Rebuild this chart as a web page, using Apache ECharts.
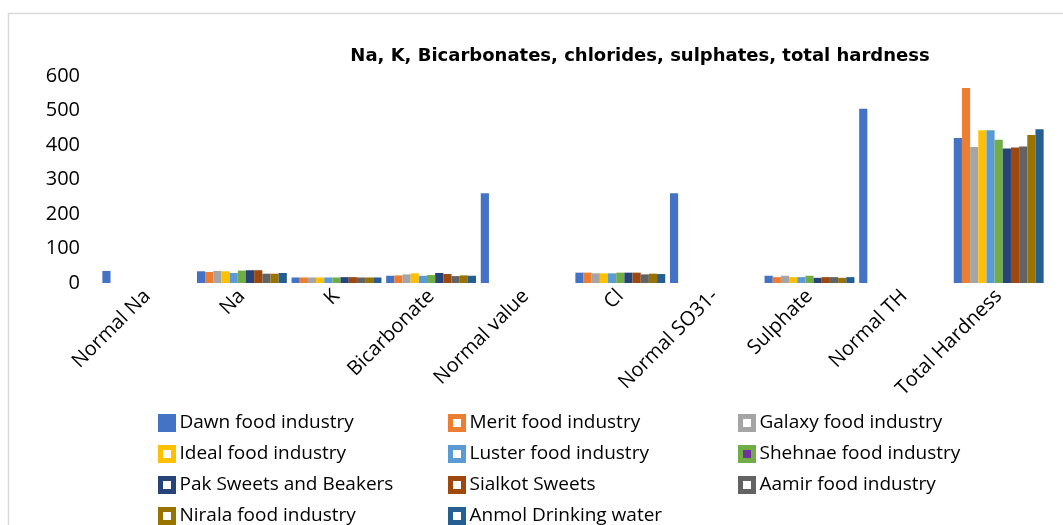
<!DOCTYPE html>
<html lang="en">
<head>
<meta charset="UTF-8">
<title>Na, K, Bicarbonates, chlorides, sulphates, total hardness</title>
<script src="https://cdn.jsdelivr.net/npm/echarts@6/dist/echarts.min.js"></script>
<style>
  html, body { margin: 0; padding: 0; background: #fff; }
  #container { width: 1063px; height: 525px; }
</style>
</head>
<body>
<div id="container"></div>
<script type="text/javascript">
// categories on the x axis
var categories = ['Normal Na', 'Na', 'K', 'Bicarbonate', 'Normal value', 'Cl', 'Normal SO31-', 'Sulphate', 'Normal TH', 'Total Hardness'];
var yTicks = [0, 100, 200, 300, 400, 500, 600];

// one array per industry, '-' = no bar
var dawn    = [35, 34, 16, 21, 260, 30, 260, 21, 505, 420];
var merit   = ['-', 32, 16, 22, '-', 30, '-', 17, '-', 565];
var galaxy  = ['-', 35, 16, 25, '-', 28, '-', 21, '-', 394];
var ideal   = ['-', 34, 16, 28, '-', 28, '-', 17, '-', 443];
var luster  = ['-', 29, 16, 21, '-', 28, '-', 17, '-', 443];
var shehnae = ['-', 36, 16, 23, '-', 30, '-', 21, '-', 415];
var pak     = ['-', 37, 17, 29, '-', 30, '-', 15, '-', 390];
var sialkot = ['-', 37, 17, 26, '-', 30, '-', 17, '-', 393];
var aamir   = ['-', 27, 16, 20, '-', 25, '-', 17, '-', 396];
var nirala  = ['-', 27, 16, 22, '-', 27, '-', 15, '-', 429];
var anmol   = ['-', 29, 16, 21, '-', 26, '-', 17, '-', 446];

var seriesNames = ['Dawn food industry', 'Merit food industry', 'Galaxy food industry', 'Ideal food industry',
  'Luster food industry', 'Shehnae food industry', 'Pak Sweets and Beakers', 'Sialkot Sweets',
  'Aamir food industry', 'Nirala food industry', 'Anmol Drinking water'];
var seriesData = [dawn, merit, galaxy, ideal, luster, shehnae, pak, sialkot, aamir, nirala, anmol];
var colors = ['#4472C4', '#ED7D31', '#A5A5A5', '#FFC000', '#5B9BD5', '#70AD47',
  '#264478', '#9E480E', '#636363', '#997300', '#255E91'];

var dom = document.getElementById('container');
var myChart = echarts.init(dom);

var series = [];
for (var i = 0; i < seriesNames.length; i++) {
  series.push({
    name: seriesNames[i],
    type: 'bar',
    barGap: '0%',
    barCategoryGap: '5%',
    itemStyle: { color: colors[i] },
    data: seriesData[i],
    animation: false
  });
}

// legend: 3 columns, one small legend per entry so nothing wraps
var colLefts = [158, 448, 738];
var rowTops = [413, 444, 475, 506];
var legends = [];
for (var j = 0; j < seriesNames.length; j++) {
  var inner = '#fff';   // icons look hollow in the original
  if (j === 0) inner = colors[0];
  if (j === 5) inner = '#7030A0';
  legends.push({
    left: colLefts[j % 3],
    top: rowTops[Math.floor(j / 3)],
    padding: 0,
    itemWidth: 13,
    itemHeight: 13,
    icon: 'rect',
    selectedMode: false,
    textStyle: { fontFamily: 'Open Sans', fontSize: 19, color: '#000', lineHeight: 20, padding: [0, 0, 0, 1] },
    data: [{ name: seriesNames[j], itemStyle: { color: inner, borderColor: colors[j], borderWidth: 5 } }]
  });
}

var option = {
  color: colors,
  textStyle: { fontFamily: 'Open Sans' },
  title: {
    text: 'Na, K, Bicarbonates, chlorides, sulphates, total hardness',
    left: 635,
    textAlign: 'center',
    top: 42,
    textStyle: { fontFamily: 'DejaVu Sans', fontWeight: 'bold', fontSize: 18, color: '#000' }
  },
  graphic: [{
    type: 'rect',
    shape: { x: 8.5, y: 13.5, width: 1070, height: 530 },
    style: { fill: 'none', stroke: '#d9d9d9', lineWidth: 1.5 },
    silent: true
  }],
  legend: legends,
  grid: { left: 100, right: 17, top: 76, bottom: 242, containLabel: false },
  xAxis: {
    type: 'category',
    data: categories,
    axisLine: { show: false },
    axisTick: { show: false },
    axisLabel: { rotate: 45, margin: 10, interval: 0, fontFamily: 'Open Sans', fontSize: 20, color: '#000' }
  },
  yAxis: {
    type: 'value',
    min: yTicks[0],
    max: yTicks[yTicks.length - 1],
    interval: 100,
    splitLine: { show: false },
    axisLine: { show: false },
    axisTick: { show: false },
    axisLabel: { margin: 20, fontFamily: 'Open Sans', fontSize: 20, color: '#000' }
  },
  series: series
};

if (option && typeof option === 'object') {
  myChart.setOption(option, true);
}
</script>
</body>
</html>
